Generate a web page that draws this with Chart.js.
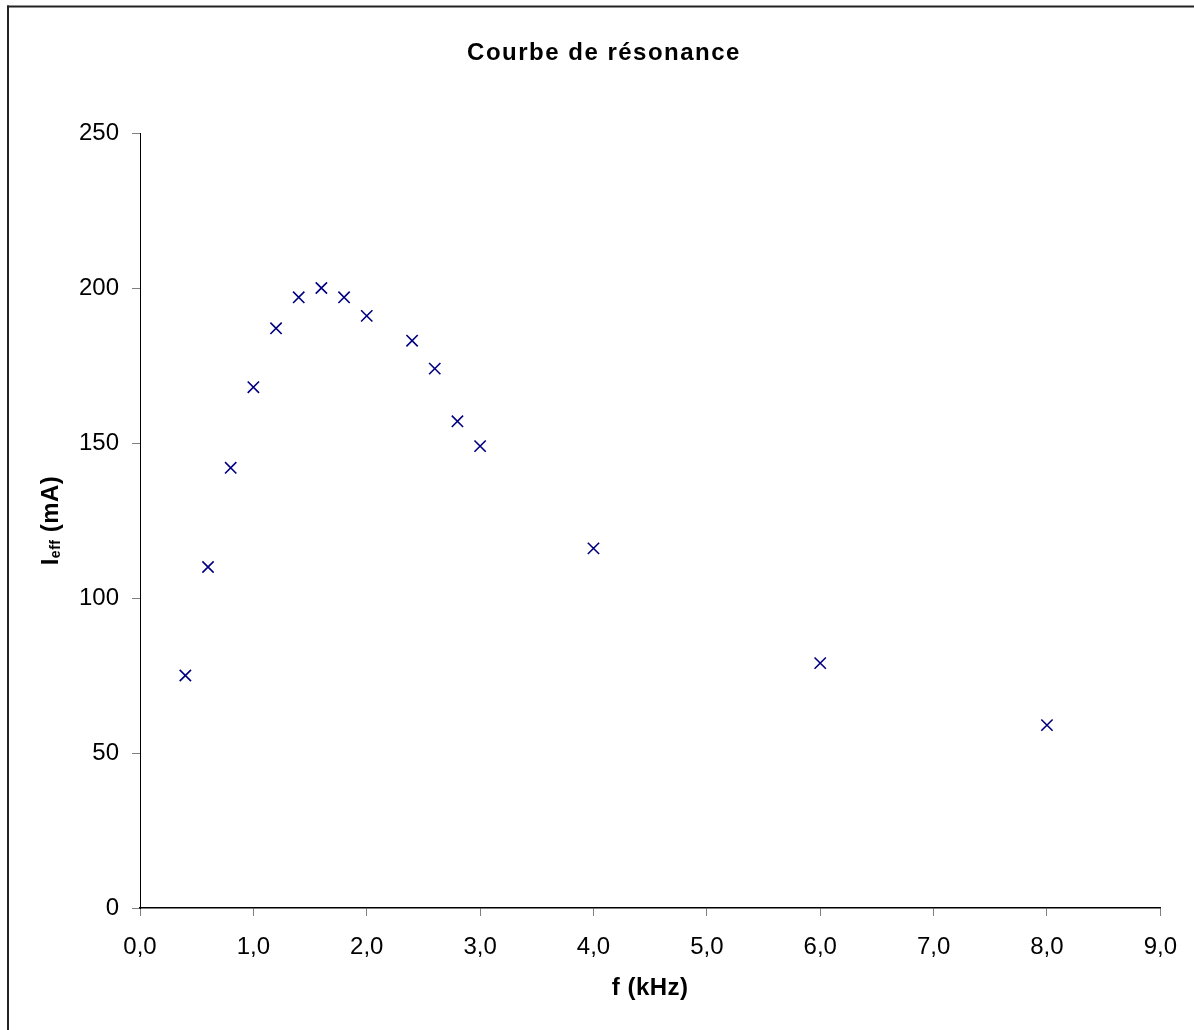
<!DOCTYPE html>
<html lang="fr">
<head>
<meta charset="utf-8">
<title>Courbe de résonance</title>
<script src="https://cdn.jsdelivr.net/npm/chart.js@4.4.1/dist/chart.umd.min.js"></script>
<style>
    html, body {
        margin: 0;
        padding: 0;
        background: #ffffff;
        overflow: hidden;
    }
    #wrap {
        position: absolute;
        left: 0;
        top: 0;
        width: 1194px;
        height: 1030px;
    }
</style>
</head>
<body>
<div id="wrap"><canvas id="resonanceChart"></canvas></div>
<script>
// Measured points (f in kHz, I_eff in mA)
const frequencies = [0.4, 0.6, 0.8, 1.0, 1.2, 1.4, 1.6, 1.8, 2.0, 2.4, 2.6, 2.8, 3.0, 4.0, 6.0, 8.0];
const currents = [75, 110, 142, 168, 187, 197, 200, 197, 191, 183, 174, 157, 149, 116, 79, 59];

const chartTitle = 'Courbe de résonance';
const xTitle = 'f (kHz)';
const yTitleMain = 'I';
const yTitleSub = 'eff';
const yTitleRest = ' (mA)';

const FONT = "'Liberation Sans', Arial, sans-serif";

/**
 * Frame, title and axis titles (Excel style, drawn by hand)
 */
const decorPlugin = {
    id: 'decor',
    beforeDraw(chart) {
        const ctx = chart.ctx;
        ctx.save();
        ctx.fillStyle = '#ffffff';
        ctx.fillRect(0, 0, chart.width, chart.height);
        // chart frame (only top and left are visible)
        ctx.fillStyle = '#222222';
        ctx.fillRect(7, 5.5, chart.width, 2);
        ctx.fillRect(7, 5.5, 2, chart.height);
        ctx.restore();
    },
    afterDraw(chart) {
        const ctx = chart.ctx;
        const area = chart.chartArea;
        ctx.save();
        ctx.fillStyle = '#000000';

        // title
        ctx.font = `bold 24px ${FONT}`;
        ctx.letterSpacing = '1.5px';
        ctx.textAlign = 'center';
        ctx.textBaseline = 'alphabetic';
        ctx.fillText(chartTitle, 604, 60);

        // x axis title
        ctx.letterSpacing = '0.5px';
        ctx.fillText(xTitle, (area.left + area.right) / 2, 995);

        // y axis title with subscript
        ctx.translate(58, (area.top + area.bottom) / 2);
        ctx.rotate(-Math.PI / 2);
        ctx.textAlign = 'left';
        const big = `bold 24px ${FONT}`;
        const small = `bold 14px ${FONT}`;
        ctx.font = big;
        const w1 = ctx.measureText(yTitleMain).width;
        const w3 = ctx.measureText(yTitleRest).width;
        ctx.font = small;
        const w2 = ctx.measureText(yTitleSub).width;
        let x = -(w1 + w2 + w3) / 2;
        ctx.font = big;
        ctx.fillText(yTitleMain, x, 0);
        x += w1;
        ctx.font = small;
        ctx.fillText(yTitleSub, x, 2);
        x += w2;
        ctx.font = big;
        ctx.fillText(yTitleRest, x, 0);
        ctx.restore();
    }
};

const formatX = (v) => v.toFixed(1).replace('.', ',');

new Chart(document.getElementById('resonanceChart'), {
    type: 'scatter',
    data: {
        datasets: [{
            label: 'Ieff',
            data: frequencies.map((f, i) => ({ x: f, y: currents[i] })),
            pointStyle: 'crossRot',
            pointRadius: 8,
            pointHoverRadius: 8,
            borderColor: '#000080',
            backgroundColor: '#000080',
            borderWidth: 1.6,
            showLine: false
        }]
    },
    options: {
        responsive: true,
        maintainAspectRatio: false,
        animation: false,
        events: [],
        layout: {
            padding: { left: 0, right: 29, top: 133, bottom: 0 }
        },
        plugins: {
            legend: { display: false },
            title: { display: false },
            tooltip: { enabled: false }
        },
        scales: {
            x: {
                type: 'linear',
                min: 0,
                max: 9,
                afterFit: (scale) => { scale.height = 122; },
                grid: {
                    drawOnChartArea: false,
                    drawTicks: true,
                    tickLength: 8,
                    tickColor: '#808080',
                    tickWidth: 1
                },
                border: { color: '#000000', width: 1.5 },
                ticks: {
                    stepSize: 1,
                    color: '#000000',
                    padding: 17,
                    maxRotation: 0,
                    font: { family: FONT, size: 24 },
                    callback: (v) => formatX(v)
                }
            },
            y: {
                min: 0,
                max: 250,
                afterFit: (scale) => { scale.width = 140; },
                grid: {
                    drawOnChartArea: false,
                    drawTicks: true,
                    tickLength: 8,
                    tickColor: '#808080',
                    tickWidth: 1
                },
                border: { color: '#000000', width: 1 },
                ticks: {
                    stepSize: 50,
                    color: '#000000',
                    padding: 13,
                    font: { family: FONT, size: 24 }
                }
            }
        }
    },
    plugins: [decorPlugin]
});
</script>
</body>
</html>
